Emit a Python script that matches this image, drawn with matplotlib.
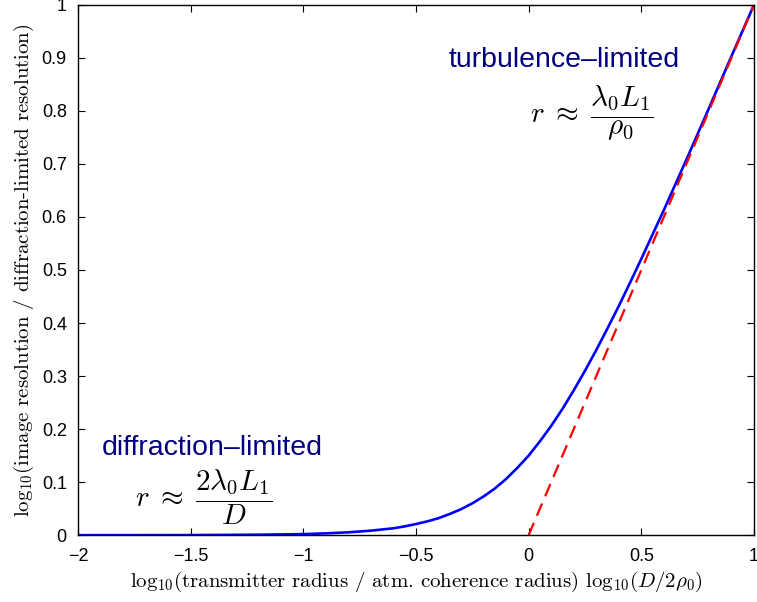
import matplotlib
matplotlib.use("Agg")
import matplotlib.pyplot as plt

plt.rcParams['mathtext.fontset'] = 'cm'
plt.rcParams['font.family'] = ['Liberation Sans', 'DejaVu Sans']

# Blue curve: log10(resolution ratio) vs log10(D/2rho0)
curve_x = [-2.0, -1.5, -1.2, -1.0, -0.9, -0.8, -0.7, -0.6, -0.55, -0.5, -0.45, -0.4,
           -0.35, -0.3, -0.25, -0.2, -0.15, -0.1, -0.05, 0.0, 0.05, 0.1, 0.15, 0.2,
           0.25, 0.3, 0.35, 0.4, 0.45, 0.5, 0.6, 0.7, 0.8, 0.9, 1.0]
curve_y = [0.0, 0.0002, 0.0009, 0.002, 0.0034, 0.0054, 0.0085, 0.013, 0.0166, 0.021,
           0.026, 0.032, 0.040, 0.049, 0.060, 0.073, 0.088, 0.106, 0.127, 0.150, 0.177,
           0.206, 0.238, 0.273, 0.310, 0.349, 0.390, 0.432, 0.476, 0.521, 0.613, 0.708,
           0.805, 0.903, 1.0]

# Red dashed asymptote (turbulence-limited)
asym_x = [0.0, 1.0]
asym_y = [0.0, 1.0]

xticks = [-2, -1.5, -1, -0.5, 0, 0.5, 1]
xticklabels = ['\u22122', '\u22121.5', '\u22121', '\u22120.5', '0', '0.5', '1']
yticks = [0, 0.1, 0.2, 0.3, 0.4, 0.5, 0.6, 0.7, 0.8, 0.9, 1]
yticklabels = ['0', '0.1', '0.2', '0.3', '0.4', '0.5', '0.6', '0.7', '0.8', '0.9', '1']

fig = plt.figure(figsize=(7.57, 6.02), dpi=100)
ax = fig.add_axes([0.103, 0.111, 0.893, 0.881])

ax.plot(curve_x, curve_y, color=(0, 0, 1), lw=1.9, solid_capstyle='butt')
ax.plot(asym_x, asym_y, color=(1, 0, 0), lw=1.6, dashes=(6, 3.5))

ax.set_xlim(-2, 1)
ax.set_ylim(0, 1)
ax.set_xticks(xticks)
ax.set_xticklabels(xticklabels)
ax.set_yticks(yticks)
ax.set_yticklabels(yticklabels)
ax.tick_params(direction='in', top=True, right=True, length=5, width=0.8,
               labelsize=13, colors='black')
ax.tick_params(axis='x', pad=9)
ax.tick_params(axis='y', pad=8)
for s in ax.spines.values():
    s.set_linewidth(1.0)

navy = (0, 0, 0.5)
ax.text(-0.353, 0.883, 'turbulence\u2013limited', color=navy, fontsize=20.5,
        ha='left', va='baseline')
ax.text(0.006, 0.796, r'$r \;\approx\; \dfrac{\lambda_0 L_1}{\rho_0}$', fontsize=21,
        ha='left', va='center')
ax.text(-1.893, 0.151, 'diffraction\u2013limited', color=navy, fontsize=20.5,
        ha='left', va='baseline')
ax.text(-1.747, 0.072, r'$r \;\approx\; \dfrac{2\lambda_0 L_1}{D}$', fontsize=21,
        ha='left', va='center')

ax.set_ylabel(r'$\mathrm{log}_{10}$(image resolution / diffraction-limited resolution)',
              family='cmr10', fontsize=15, labelpad=4)
ax.set_xlabel(r'$\mathrm{log}_{10}$(transmitter radius / atm. coherence radius) '
              r'$\mathrm{log}_{10}(D/2\rho_0)$',
              family='cmr10', fontsize=15, labelpad=4)

fig.savefig('out.png', dpi=100)
